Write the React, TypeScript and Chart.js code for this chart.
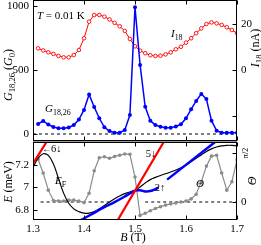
import React, { useEffect, useRef } from "react";
import { Chart, registerables } from "chart.js";
Chart.register(...registerables);

const SERIF = '"Liberation Serif", "Times New Roman", serif';

// ---- data (top panel) ----
const B_FIELD = [1.31, 1.32, 1.33, 1.34, 1.35, 1.36, 1.37, 1.38, 1.39, 1.40,
  1.41, 1.42, 1.43, 1.44, 1.45, 1.46, 1.47, 1.48, 1.49, 1.50,
  1.51, 1.52, 1.53, 1.54, 1.55, 1.56, 1.57, 1.58, 1.59, 1.60,
  1.61, 1.62, 1.63, 1.64, 1.65, 1.66, 1.67, 1.68, 1.69, 1.70];
const G_VALUES = [78, 102, 74, 55, 45, 45, 51, 70, 113, 188,
  309, 211, 123, 52, 23, 10, 10, 31, 148, 990,
  539, 213, 104, 70, 57, 49, 49, 59, 76, 123,
  193, 258, 313, 273, 104, 26, 10, 10, 10, 10];
const I_VALUES = [9.4, 8.5, 7.7, 7.0, 6.1, 5.5, 5.5, 6.5, 8.7, 13.8,
  21.0, 23.9, 23.9, 23.2, 22.0, 20.5, 19.0, 17.0, 13.5, 10.3,
  8.4, 7.3, 6.4, 6.1, 6.2, 6.8, 7.7, 9.0, 10.1, 11.9,
  13.8, 16.0, 18.1, 20.0, 20.7, 20.3, 19.6, 18.6, 17.4, 16.0];
const G_ZERO_B = [1.3, 1.7];
const G_ZERO_V = [0, 0];

// ---- data (bottom panel) ----
const THETA_VALUES = [1.37, 0.93, 0.38, 0.05, 0.03, 0.03, 0.06, 0.06, 0.03, -0.02,
  0.28, 1.0, 1.42, 1.45, 1.40, 1.46, 1.5, 1.54, 1.53, 0.8,
  -0.43, -0.36, -0.28, -0.21, -0.15, -0.1, -0.06, -0.03, 0.0, 0.03,
  0.1, 0.25, 0.65, 1.15, 1.47, 1.5, 0.93, 0.38, 0.65, 1.35];
const EF_B = [1.30, 1.31, 1.32, 1.33, 1.34, 1.35, 1.36, 1.37, 1.38, 1.39, 1.40,
  1.41, 1.42, 1.43, 1.44, 1.45, 1.46, 1.47, 1.48, 1.49, 1.50,
  1.51, 1.52, 1.53, 1.54, 1.55, 1.56, 1.57, 1.58, 1.59, 1.60,
  1.61, 1.62, 1.63, 1.64, 1.65, 1.66, 1.67, 1.68, 1.69, 1.70];
const EF_E = [7.18, 7.26, 7.30, 7.285, 7.21, 7.08, 6.95, 6.86, 6.81, 6.785, 6.772,
  6.772, 6.785, 6.81, 6.84, 6.87, 6.90, 6.925, 6.945, 6.96, 6.975,
  7.005, 7.04, 7.07, 7.09, 7.107, 7.122, 7.138, 7.155, 7.175, 7.20,
  7.23, 7.26, 7.29, 7.32, 7.343, 7.36, 7.37, 7.375, 7.375, 7.37];
const RED1_B = [1.29, 1.33];
const RED1_E = [7.14, 7.43];
const RED2_B = [1.46, 1.56];
const RED2_E = [6.663, 7.433];
const BLUE1_B = [1.39, 1.42, 1.44, 1.46, 1.48, 1.49, 1.50, 1.51, 1.52, 1.53, 1.54, 1.546];
const BLUE1_E = [6.70, 6.775, 6.825, 6.87, 6.92, 6.947, 6.972, 6.975, 6.965, 6.968, 6.985, 7.0];
const BLUE2_B = [1.563, 1.66];
const BLUE2_E = [7.07, 7.415];
const DASH1_B = [1.315, 1.455];
const DASH2_B = [1.52, 1.70];
const DASH_V = [0, 0];

// ---- ticks ----
const X_TICKS = [1.3, 1.4, 1.5, 1.6, 1.7];
const G_TICKS = [0, 500, 1000];
const I_TICKS = [-20, 0, 20];
const E_TICKS = [6.8, 7.0, 7.2];
const THETA_TICKS = [0, Math.PI / 2];

const pts = (xs: number[], ys: number[]) => xs.map((x, i) => ({ x, y: ys[i] }));

type Run = { t: string; i?: boolean; s?: boolean };

function fontFor(r: Run, size: number) {
  return `${r.i ? "italic " : ""}${r.s ? size * 0.72 : size}px ${SERIF}`;
}

function drawRich(ctx: CanvasRenderingContext2D, runs: Run[], x: number, y: number, size: number,
  align: "left" | "center", rot = 0, color = "#000") {
  ctx.save();
  ctx.translate(x, y);
  if (rot) ctx.rotate(rot);
  let total = 0;
  for (const r of runs) { ctx.font = fontFor(r, size); total += ctx.measureText(r.t).width; }
  let cx = align === "center" ? -total / 2 : 0;
  ctx.textAlign = "left";
  ctx.textBaseline = "alphabetic";
  ctx.fillStyle = color;
  for (const r of runs) {
    ctx.font = fontFor(r, size);
    ctx.fillText(r.t, cx, r.s ? size * 0.25 : 0);
    cx += ctx.measureText(r.t).width;
  }
  ctx.restore();
}

function frameAndTicks(chart: any, xId: string, leftId: string, leftTicks: number[], rightId: string, rightTicks: number[]) {
  const { ctx, chartArea: a, scales } = chart;
  const x0 = a.left + 0.5, x1 = a.right - 0.5, y0 = a.top - 0.5, y1 = a.bottom - 0.5;
  ctx.save();
  ctx.strokeStyle = "#000";
  ctx.lineWidth = 1;
  ctx.strokeRect(x0, y0, x1 - x0, y1 - y0);
  const L = 4;
  ctx.beginPath();
  for (const v of X_TICKS) {
    const px = Math.round(scales[xId].getPixelForValue(v)) + 0.5;
    ctx.moveTo(px, y0); ctx.lineTo(px, y0 + L);
    ctx.moveTo(px, y1); ctx.lineTo(px, y1 - L);
  }
  for (const v of leftTicks) {
    const py = Math.round(scales[leftId].getPixelForValue(v)) + 0.5;
    ctx.moveTo(x0, py); ctx.lineTo(x0 + L, py);
  }
  for (const v of rightTicks) {
    const py = Math.round(scales[rightId].getPixelForValue(v)) + 0.5;
    ctx.moveTo(x1, py); ctx.lineTo(x1 - L, py);
  }
  ctx.stroke();
  ctx.restore();
}

const tickFont = { family: SERIF, size: 11 };

const noPad = (s: any) => { s.paddingTop = 0; s.paddingBottom = 0; s.paddingLeft = 0; s.paddingRight = 0; };

function topConfig(): any {
  const decor = {
    id: "topDecor",
    afterDraw(chart: any) {
      frameAndTicks(chart, "x", "yG", G_TICKS, "yI", I_TICKS);
      const ctx = chart.ctx;
      drawRich(ctx, [{ t: "T", i: true }, { t: " = 0.01 K" }], 37, 19, 11, "left");
      drawRich(ctx, [{ t: "I", i: true }, { t: "18", s: true }], 171, 37, 11, "left");
      drawRich(ctx, [{ t: "G", i: true }, { t: "18,26", s: true }], 45, 112, 11, "left");
      drawRich(ctx, [{ t: "G", i: true }, { t: "18,26", s: true }, { t: " (" }, { t: "G", i: true }, { t: "0", s: true }, { t: ")" }],
        12, 75, 12, "center", -Math.PI / 2);
      drawRich(ctx, [{ t: "I", i: true }, { t: "18", s: true }, { t: " (nA)" }], 259, 48, 12, "center", -Math.PI / 2);
    },
  };
  return {
    type: "line",
    data: {
      datasets: [
        { data: pts(B_FIELD, G_VALUES), yAxisID: "yG", borderColor: "#0000ff", borderWidth: 1.5,
          pointRadius: 2, pointBackgroundColor: "#0000ff", pointBorderWidth: 0, order: 1 },
        { data: pts(B_FIELD, I_VALUES), yAxisID: "yI", borderColor: "#ff0000", borderWidth: 1,
          pointRadius: 1.8, pointBackgroundColor: "#ffffff", pointBorderColor: "#ff0000", pointBorderWidth: 0.9, order: 2 },
        { data: pts(G_ZERO_B, G_ZERO_V), yAxisID: "yG", borderColor: "#000", borderWidth: 1, borderDash: [3, 3],
          pointRadius: 0, order: 3 },
      ],
    },
    options: {
      animation: false, responsive: false, devicePixelRatio: 1, events: [],
      layout: { autoPadding: false, padding: { top: 1, left: 0, right: 0, bottom: 0 } },
      plugins: { legend: { display: false }, tooltip: { enabled: false } },
      scales: {
        x: { type: "linear", min: 1.3, max: 1.7, display: false },
        yG: {
          type: "linear", position: "left", min: -54.7, max: 1039,
          grid: { display: false, drawTicks: false }, border: { display: false },
          ticks: { font: tickFont, color: "#000", padding: 4, callback: (v: number) => String(v) },
          afterBuildTicks: (s: any) => { s.ticks = G_TICKS.map((v) => ({ value: v })); },
          afterFit: (s: any) => { s.width = 33; noPad(s); },
        },
        yI: {
          type: "linear", position: "right", min: -30.87, max: 30,
          grid: { display: false, drawTicks: false }, border: { display: false },
          ticks: { font: tickFont, color: "#000", padding: 4, callback: (v: number) => (v === -20 ? "" : String(v)) },
          afterBuildTicks: (s: any) => { s.ticks = I_TICKS.map((v) => ({ value: v })); },
          afterFit: (s: any) => { s.width = 24; noPad(s); },
        },
      },
    },
    plugins: [decor],
  };
}

function botConfig(): any {
  const decor = {
    id: "botDecor",
    afterDraw(chart: any) {
      const ctx = chart.ctx;
      const a = chart.chartArea;
      ctx.save();
      ctx.fillStyle = "#9a9a9a";
      ctx.fillRect(a.left, 0, a.right - a.left, 1);
      ctx.restore();
      frameAndTicks(chart, "x", "yE", E_TICKS, "yT", THETA_TICKS);
      drawRich(ctx, [{ t: "\u2190" }], 42, 11, 10, "left");
      drawRich(ctx, [{ t: "6\u2193" }], 51, 11, 10.5, "left");
      drawRich(ctx, [{ t: "E", i: true }, { t: "F", s: true }], 55, 43, 11, "left");
      drawRich(ctx, [{ t: "5\u2193" }], 151, 16, 10.5, "center");
      drawRich(ctx, [{ t: "2\u2191" }], 160, 50, 10.5, "center");
      drawRich(ctx, [{ t: "\u0398", i: true }], 200, 46, 11, "center");
      drawRich(ctx, [{ t: "E", i: true }, { t: " (meV)" }], 12, 41, 12, "center", -Math.PI / 2);
      drawRich(ctx, [{ t: "\u0398", i: true }], 256, 40, 12, "center", -Math.PI / 2);
      drawRich(ctx, [{ t: "\u03c0/2" }], 248, 12, 8, "center", -Math.PI / 2);
      drawRich(ctx, [{ t: "B", i: true }, { t: " (T)" }], 133, 100, 12, "center");
    },
  };
  return {
    type: "line",
    data: {
      datasets: [
        { data: pts(RED1_B, RED1_E), yAxisID: "yE", borderColor: "#ff0000", borderWidth: 2.2, pointRadius: 0, order: 1 },
        { data: pts(RED2_B, RED2_E), yAxisID: "yE", borderColor: "#ff0000", borderWidth: 2.2, pointRadius: 0, order: 1 },
        { data: pts(BLUE1_B, BLUE1_E), yAxisID: "yE", borderColor: "#0000ff", borderWidth: 2.5, pointRadius: 0,
          tension: 0.4, order: 2 },
        { data: pts(BLUE2_B, BLUE2_E), yAxisID: "yE", borderColor: "#0000ff", borderWidth: 2.5, pointRadius: 0, order: 2 },
        { data: pts(EF_B, EF_E), yAxisID: "yE", borderColor: "#000", borderWidth: 1.2, pointRadius: 0,
          tension: 0.4, order: 3 },
        { data: pts(B_FIELD, THETA_VALUES), yAxisID: "yT", borderColor: "#8c8c8c", borderWidth: 1.2,
          pointRadius: 1.8, pointBackgroundColor: "#8c8c8c", pointBorderWidth: 0, order: 4 },
        { data: pts(DASH1_B, DASH_V), yAxisID: "yT", borderColor: "#000", borderWidth: 1, borderDash: [3, 3],
          pointRadius: 0, order: 5 },
        { data: pts(DASH2_B, DASH_V), yAxisID: "yT", borderColor: "#000", borderWidth: 1, borderDash: [3, 3],
          pointRadius: 0, order: 5 },
      ],
    },
    options: {
      animation: false, responsive: false, devicePixelRatio: 1, events: [],
      layout: { autoPadding: false, padding: { top: 2, left: 0, right: 0, bottom: 0 } },
      plugins: { legend: { display: false }, tooltip: { enabled: false } },
      scales: {
        x: {
          type: "linear", position: "bottom", min: 1.3, max: 1.7,
          grid: { display: false, drawTicks: false }, border: { display: false },
          ticks: { font: tickFont, color: "#000", padding: 3, maxRotation: 0, callback: (v: number) => v.toFixed(1) },
          afterBuildTicks: (s: any) => { s.ticks = X_TICKS.map((v) => ({ value: v })); },
          afterFit: (s: any) => { s.height = 25; noPad(s); },
        },
        yE: {
          type: "linear", position: "left", min: 6.711, max: 7.3956,
          grid: { display: false, drawTicks: false }, border: { display: false },
          ticks: { font: tickFont, color: "#000", padding: 4, callback: (v: number) => (Math.abs(v - 7) < 1e-9 ? "7" : v.toFixed(1)) },
          afterBuildTicks: (s: any) => { s.ticks = E_TICKS.map((v) => ({ value: v })); },
          afterFit: (s: any) => { s.width = 33; noPad(s); },
        },
        yT: {
          type: "linear", position: "right", min: -0.577, max: 1.891,
          grid: { display: false, drawTicks: false }, border: { display: false },
          ticks: { font: tickFont, color: "#000", padding: 4, callback: (v: number) => (v === 0 ? "0" : "") },
          afterBuildTicks: (s: any) => { s.ticks = THETA_TICKS.map((v) => ({ value: v })); },
          afterFit: (s: any) => { s.width = 24; noPad(s); },
        },
      },
    },
    plugins: [decor],
  };
}

export default function App() {
  const topRef = useRef<HTMLCanvasElement>(null);
  const botRef = useRef<HTMLCanvasElement>(null);
  useEffect(() => {
    const c1 = new Chart(topRef.current as HTMLCanvasElement, topConfig());
    const c2 = new Chart(botRef.current as HTMLCanvasElement, botConfig());
    return () => { c1.destroy(); c2.destroy(); };
  }, []);
  return (
    <div style={{ position: "absolute", left: 0, top: 0, width: 261, height: 245, background: "#fff" }}>
      <canvas ref={topRef} width={261} height={141}
        style={{ position: "absolute", left: 0, top: 0, width: 261, height: 141 }} />
      <canvas ref={botRef} width={261} height={104}
        style={{ position: "absolute", left: 0, top: 141, width: 261, height: 104 }} />
    </div>
  );
}
